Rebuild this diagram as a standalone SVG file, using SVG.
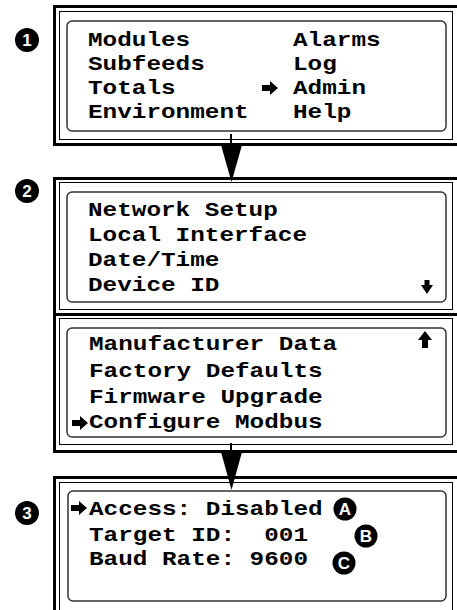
<svg xmlns="http://www.w3.org/2000/svg" width="457" height="610" viewBox="0 0 457 610">
<style>
.thick{fill:none;stroke:#000;stroke-width:3}
.thin{fill:none;stroke:#000;stroke-width:1}
.lcd{fill:none;stroke:#333;stroke-width:1.5}
.t{font-family:"Liberation Mono","Courier New",monospace;font-weight:bold;font-size:21px;fill:#000}
.num{font-family:"Liberation Sans",Arial,sans-serif;font-weight:bold;font-size:17px;fill:#fff;text-anchor:middle}
</style>
<defs>
<path id="ra" d="M0,-3 H8 V-7 L16,0 L8,7 V3 H0 Z" fill="#000"/>
</defs>
<rect width="457" height="610" fill="#fff"/>

<g id="screen1">
<rect class="thick" x="54.5" y="6.5" width="420" height="138"/>
<rect class="thin" x="59.5" y="11.5" width="393" height="128"/>
<rect class="lcd" x="67" y="21" width="379" height="110" rx="5"/>
<text class="t" x="88" y="46" textLength="102.2" lengthAdjust="spacingAndGlyphs">Modules</text>
<text class="t" x="88" y="70" textLength="116.8" lengthAdjust="spacingAndGlyphs">Subfeeds</text>
<text class="t" x="88" y="94" textLength="87.6" lengthAdjust="spacingAndGlyphs">Totals</text>
<text class="t" x="88" y="118" textLength="160.6" lengthAdjust="spacingAndGlyphs">Environment</text>
<text class="t" x="293" y="46" textLength="87.6" lengthAdjust="spacingAndGlyphs">Alarms</text>
<text class="t" x="293" y="70" textLength="43.8" lengthAdjust="spacingAndGlyphs">Log</text>
<text class="t" x="293" y="94" textLength="73" lengthAdjust="spacingAndGlyphs">Admin</text>
<text class="t" x="293" y="118" textLength="58.4" lengthAdjust="spacingAndGlyphs">Help</text>
<use href="#ra" x="262" y="88"/>
</g>

<g id="screen2a">
<rect class="thick" x="54.5" y="178.5" width="420" height="136"/>
<rect class="thin" x="59.5" y="182.5" width="393" height="127"/>
<rect class="lcd" x="67" y="192" width="379" height="110" rx="5"/>
<text class="t" x="88" y="216" textLength="189.8" lengthAdjust="spacingAndGlyphs">Network Setup</text>
<text class="t" x="88" y="241" textLength="219" lengthAdjust="spacingAndGlyphs">Local Interface</text>
<text class="t" x="88" y="266" textLength="131.4" lengthAdjust="spacingAndGlyphs">Date/Time</text>
<text class="t" x="88" y="291" textLength="131.4" lengthAdjust="spacingAndGlyphs">Device ID</text>
<path d="M424.5,280 H429.5 V285 H433 L427,294 L421,285 H424.5 Z" fill="#000"/>
</g>

<g id="screen2b">
<rect class="thick" x="54.5" y="314.5" width="420" height="137"/>
<rect class="thin" x="59.5" y="318.5" width="393" height="126"/>
<rect class="lcd" x="67" y="328" width="379" height="109" rx="5"/>
<text class="t" x="89" y="350" textLength="248.2" lengthAdjust="spacingAndGlyphs">Manufacturer Data</text>
<text class="t" x="89" y="377" textLength="233.6" lengthAdjust="spacingAndGlyphs">Factory Defaults</text>
<text class="t" x="89" y="403" textLength="233.6" lengthAdjust="spacingAndGlyphs">Firmware Upgrade</text>
<text class="t" x="89" y="428" textLength="233.6" lengthAdjust="spacingAndGlyphs">Configure Modbus</text>
<use href="#ra" x="72" y="423"/>
<path d="M425,331 L432,340 H428 V348 H422 V340 H418 Z" fill="#000"/>
</g>

<g id="screen3">
<rect class="thick" x="54.5" y="477.5" width="420" height="150"/>
<rect class="thin" x="59.5" y="482.5" width="393" height="140"/>
<rect class="lcd" x="68" y="491" width="378" height="110" rx="5"/>
<text class="t" x="89" y="515" textLength="233.6" lengthAdjust="spacingAndGlyphs">Access: Disabled</text>
<text class="t" x="89" y="541" textLength="219" lengthAdjust="spacingAndGlyphs" xml:space="preserve">Target ID:  001</text>
<text class="t" x="89" y="565" textLength="219" lengthAdjust="spacingAndGlyphs">Baud Rate: 9600</text>
<use href="#ra" x="71" y="508"/>
</g>

<g id="callouts">
<circle cx="27" cy="40" r="12" fill="#000"/><text class="num" x="27" y="46">1</text>
<circle cx="27" cy="191" r="12" fill="#000"/><text class="num" x="27" y="197">2</text>
<circle cx="27" cy="513" r="12" fill="#000"/><text class="num" x="27" y="519">3</text>
<circle cx="345" cy="509" r="11.5" fill="#000"/><text class="num" x="345" y="515">A</text>
<circle cx="366" cy="536" r="11.5" fill="#000"/><text class="num" x="366" y="542">B</text>
<circle cx="344" cy="563" r="11.5" fill="#000"/><text class="num" x="344" y="569">C</text>
</g>

<g id="connectors">
<line x1="231" y1="134" x2="231" y2="146" stroke="#000" stroke-width="2"/>
<polygon points="221,145 242,145 231.5,182" fill="#000"/>
<line x1="231" y1="443" x2="231" y2="453" stroke="#000" stroke-width="2"/>
<polygon points="221,452 242,452 231.5,490" fill="#000"/>
</g>
</svg>
